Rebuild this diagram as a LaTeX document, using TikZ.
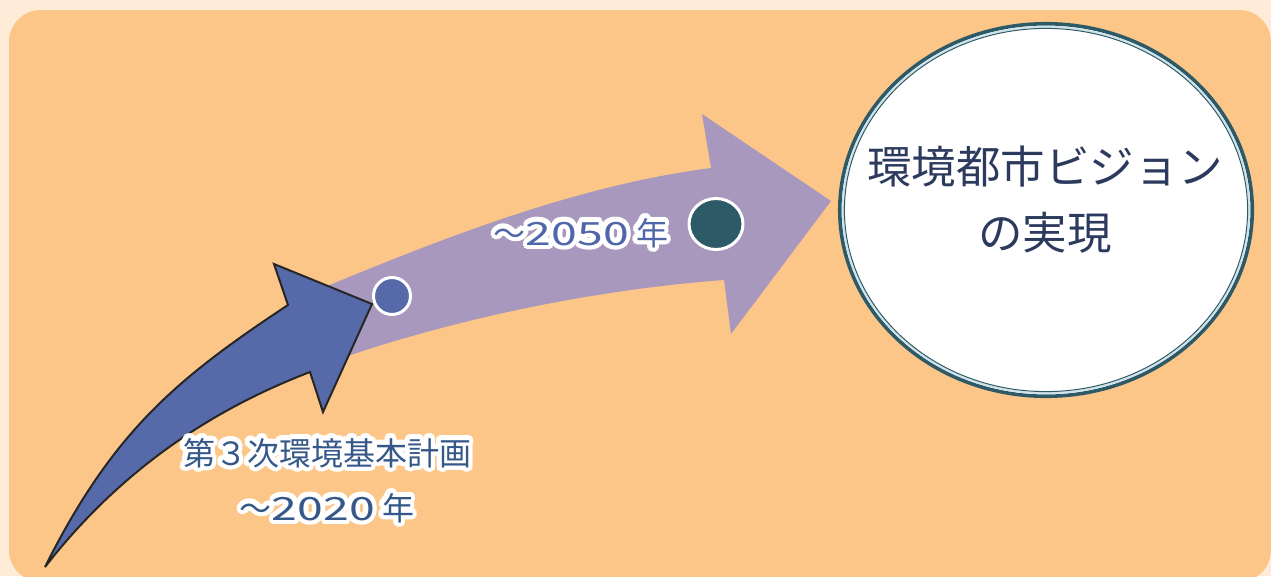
\documentclass[tikz,border=0pt]{standalone}
\usepackage{fontspec}
\usepackage{graphicx}
\newfontfamily\jp{Noto Sans CJK JP}
\usetikzlibrary{shapes.geometric}
\definecolor{bgcream}{HTML}{FEEBD8}
\definecolor{bgorange}{HTML}{FBC688}
\definecolor{arrpurple}{HTML}{A898BE}
\definecolor{arrblue}{HTML}{566AAA}
\definecolor{darkteal}{HTML}{2E5967}
\definecolor{ringlight}{HTML}{CFE3EA}
\definecolor{visiontxt}{HTML}{2C3A5E}
\definecolor{plantxt}{HTML}{365889}
\definecolor{yeartxt}{HTML}{5066AA}
\newcommand\halotxt[2]{%
  \leavevmode\smash{\rlap{\color{white}%
    \foreach \hR in {1.6,3.2,4.6}{%
      \foreach \hA in {0,22.5,...,337.5}{%
        \pgfmathsetlengthmacro\hdx{\hR pt*cos(\hA)}%
        \pgfmathsetlengthmacro\hdy{\hR pt*sin(\hA)}%
        \rlap{\hspace*{\hdx}\raisebox{\hdy}{#2}}}}}}%
  {\color{#1}#2}}
\begin{document}
\begin{tikzpicture}[x=1pt,y=-1pt,
  label/.style={inner sep=0pt, font=\jp\fontsize{32}{38}\selectfont},
  visionlbl/.style={inner sep=0pt, align=center, text=visiontxt,
    font=\jp\fontsize{44.5}{66}\selectfont},
  dot/.style={circle, draw=white, line width=3pt, inner sep=0pt}]
\useasboundingbox (0,0) rectangle (1271,576);
\fill[bgcream] (0,0) rectangle (1271,576);
\fill[bgorange, rounded corners=32pt] (9,10) rectangle (1271,582);

% purple arrow
\fill[arrpurple] (320,289) .. controls (450,235) and (580,185) .. (711,168)
  -- (702,114) -- (831,201) -- (731,334) -- (724,280)
  .. controls (590,290) and (450,320) .. (330,362) -- cycle;

% blue arrow
\filldraw[fill=arrblue, draw=black!85, line width=2pt, line join=miter]
  (45,567) .. controls (112.6,432) and (176,379) .. (288,305)
  -- (274,264) -- (372,304) -- (323,412) -- (310,372)
  .. controls (240,399) and (135,451) .. (45,567) -- cycle;

% milestones
\node[dot, fill=arrblue, minimum size=37pt] (m2020) at (392,296) {};
\node[dot, ellipse, fill=darkteal, minimum width=54pt, minimum height=51pt] (m2050) at (716,224) {};

% vision ellipse
\node[ellipse, draw=darkteal, line width=3.6pt, fill=white,
  minimum width=412.5pt, minimum height=372.5pt, inner sep=0pt] (vision) at (1046,210) {};
\draw[ringlight, line width=2pt] (vision.center) ellipse [x radius=203.2pt, y radius=183.2pt];
\draw[darkteal, line width=1pt] (vision.center) ellipse [x radius=201.6pt, y radius=181.6pt];
\node[visionlbl] (visiontext) at (1045,200) {環境都市ビジョン\\の実現};

% labels
\node[label] (plan) at (327,453) {\halotxt{plantxt}{第３次環境基本計画}};
\node[label] (y2020) at (327,508) {\halotxt{plantxt}{～\scalebox{1.45}[1]{2020} 年}};
\node[label] (y2050) at (581,233) {\halotxt{yeartxt}{～\scalebox{1.45}[1]{2050} 年}};
\end{tikzpicture}
\end{document}
